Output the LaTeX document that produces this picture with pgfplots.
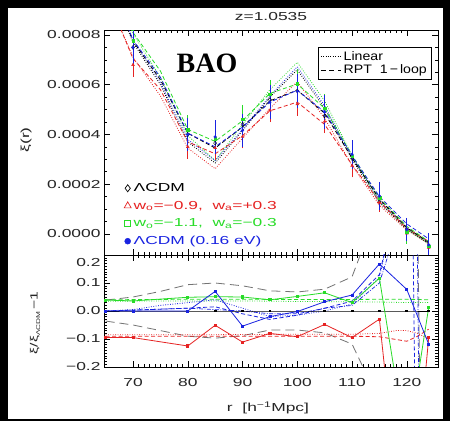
\documentclass[border=0pt]{standalone}
\usepackage{pgfplots}
\pgfplotsset{compat=1.18}
\usepackage{fontspec}
\setmainfont{Liberation Sans}
\newfontfamily\idl{Liberation Sans}[FakeStretch=1.5]
\newfontfamily\leg{Liberation Sans}[FakeStretch=1.15]
\newfontfamily\tnr{Liberation Serif}
\definecolor{cR}{RGB}{230,35,35}
\definecolor{cG}{RGB}{40,220,40}
\definecolor{cB}{RGB}{25,35,225}
\definecolor{cGr}{RGB}{115,115,115}
\pgfplotsset{
  idlaxis/.style={
    scale only axis, width=334pt,
    xmin=64.7, xmax=125.7,
    axis line style={black, line width=0.6pt},
    tick style={black, line width=0.5pt},
    major tick length=6pt, minor tick length=3pt,
    tick pos=both, tick align=inside,
    xtick={70,80,90,100,110,120}, minor x tick num=9,
    every tick label/.append style={font=\fontsize{11.6}{13}\selectfont\idl, text=black!85},
    scaled ticks=false,
  },
  dsh/.style={dash pattern=on 4pt off 2.5pt, line width=0.8pt},
  dtt/.style={dash pattern=on 0.8pt off 1.6pt, line width=0.8pt},
  dd/.style={dash pattern=on 4pt off 1.5pt on 0.8pt off 1.5pt, line width=0.7pt},
  lng/.style={dash pattern=on 9pt off 5pt, line width=0.8pt},
}
\begin{document}
\begin{tikzpicture}
\useasboundingbox (0,0) rectangle (450pt,421pt);
\fill[black] (0,0) rectangle (450pt,421pt);
\fill[white] (8pt,2pt) rectangle (443pt,413pt);

% ---------------- top panel ----------------
\begin{axis}[idlaxis, at={(104pt,166pt)}, anchor=south west, height=225pt,
  ymin=-0.000085, ymax=0.00082,
  ytick={0,0.0002,0.0004,0.0006,0.0008},
  yticklabels={0.0000,0.0002,0.0004,0.0006,0.0008},
  minor y tick num=3, xticklabels={},
  legend style={at={(0.06,0.33)}, anchor=north west, draw=none, fill=none,
    font=\fontsize{11.6}{13}\selectfont\idl, row sep=3pt, inner sep=0pt,
    nodes={inner sep=2.5pt}},
  legend cell align=left,
  legend image code/.code={\draw[#1] plot coordinates {(3pt,0pt)};},
]
\addlegendimage{only marks, mark=diamond, black, mark size=3.5pt, line width=0.7pt}
\addlegendentry{ΛCDM}
\addlegendimage{only marks, mark=triangle, cR, mark size=4pt, line width=0.7pt}
\addlegendentry{\textcolor{cR}{w\textsubscript{o}=−0.9,\ \ w\textsubscript{a}=+0.3}}
\addlegendimage{only marks, mark=square, cG, mark size=3pt, line width=0.7pt}
\addlegendentry{\textcolor{cG}{w\textsubscript{o}=−1.1,\ \ w\textsubscript{a}=−0.3}}
\addlegendimage{only marks, mark=*, cB, mark size=3pt}
\addlegendentry{\textcolor{cB}{ΛCDM (0.16 eV)}}

% Linear (dotted)
\addplot[forget plot, dtt, cR] coordinates {(65,0.00097)(70,0.00071)(75,0.000555)(80,0.000345)(85,0.000262)(90,0.000385)(95,0.000505)(100,0.000612)(105,0.000465)(110,0.000275)(115,0.000115)(120,0.000015)(124,-0.00004)};
\addplot[forget plot, dtt, cG] coordinates {(65,0.0011)(70,0.000805)(75,0.00063)(80,0.000395)(85,0.000295)(90,0.00044)(95,0.00058)(100,0.00069)(105,0.000535)(110,0.000315)(115,0.00013)(120,0.00002)(124,-0.00004)};
\addplot[forget plot, dtt, black] coordinates {(65,0.00104)(70,0.00077)(75,0.0006)(80,0.00037)(85,0.000285)(90,0.000415)(95,0.00055)(100,0.00066)(105,0.000505)(110,0.0003)(115,0.000125)(120,0.000018)(124,-0.00004)};
\addplot[forget plot, dtt, cB] coordinates {(65,0.00105)(70,0.00078)(75,0.00061)(80,0.00038)(85,0.000295)(90,0.00042)(95,0.000555)(100,0.000672)(105,0.000515)(110,0.00031)(115,0.000135)(120,0.000025)(124,-0.000035)};
% RPT (dashed)
\addplot[forget plot, dsh, cR] coordinates {(65,0.00097)(70,0.000705)(75,0.00058)(80,0.00037)(85,0.000322)(90,0.000395)(95,0.000495)(100,0.00053)(105,0.00044)(110,0.000278)(115,0.00013)(120,0.000022)(124,-0.00003)};
\addplot[forget plot, dsh, cG] coordinates {(65,0.0011)(70,0.00081)(75,0.000655)(80,0.00042)(85,0.000372)(90,0.000455)(95,0.000565)(100,0.000603)(105,0.000505)(110,0.000315)(115,0.000145)(120,0.00003)(124,-0.00003)};
\addplot[forget plot, dsh, black] coordinates {(65,0.00105)(70,0.000775)(75,0.00062)(80,0.000405)(85,0.000345)(90,0.00043)(95,0.000535)(100,0.000578)(105,0.000485)(110,0.000305)(115,0.00014)(120,0.000025)(124,-0.000035)};
\addplot[forget plot, dsh, cB] coordinates {(65,0.00105)(70,0.00078)(75,0.00063)(80,0.000405)(85,0.00035)(90,0.00043)(95,0.00053)(100,0.000578)(105,0.00049)(110,0.000315)(115,0.00015)(120,0.00004)(124,-0.00002)};

% points with error bars
\addplot[forget plot, only marks, black, mark=diamond, mark size=2pt,
  error bars/.cd, y dir=both, y explicit, error bar style={line width=0.6pt}, error mark options={mark size=1.8pt, line width=0.6pt}]
  coordinates {(65,0.00105)+-(0,0.00003)(70,0.00075)+-(0,0.00003)(80,0.0004)+-(0,0.00003)(85,0.000365)+-(0,0.00003)(90,0.00044)+-(0,0.00003)(95,0.00054)+-(0,0.00003)(100,0.000575)+-(0,0.00003)(105,0.000475)+-(0,0.00003)(110,0.000303)+-(0,0.00003)(115,0.00013)+-(0,0.00003)(120,0.000016)+-(0,0.00003)(124,-0.00005)+-(0,0.00003)};
\addplot[forget plot, only marks, cR, mark=triangle*, mark size=1.6pt,
  error bars/.cd, y dir=both, y explicit, error bar style={line width=0.7pt}, error mark options={mark size=1.8pt, line width=0.7pt}]
  coordinates {(65,0.00096)+-(0,0.00004)(70,0.00068)+-(0,0.00004)(80,0.00035)+-(0,0.00004)(85,0.000346)+-(0,0.00004)(90,0.000391)+-(0,0.00004)(95,0.000497)+-(0,0.00004)(100,0.000522)+-(0,0.00004)(105,0.000452)+-(0,0.00004)(110,0.000274)+-(0,0.00004)(115,0.000126)+-(0,0.00003)(120,0.000002)+-(0,0.00003)(124,-0.000055)+-(0,0.00003)};
\addplot[forget plot, only marks, cG, mark=square*, mark size=1.3pt,
  error bars/.cd, y dir=both, y explicit, error bar style={line width=0.7pt}, error mark options={mark size=1.8pt, line width=0.7pt}]
  coordinates {(65,0.00109)+-(0,0.00005)(70,0.000777)+-(0,0.00005)(80,0.00042)+-(0,0.00005)(85,0.000384)+-(0,0.00005)(90,0.000462)+-(0,0.00005)(95,0.000562)+-(0,0.00005)(100,0.000605)+-(0,0.00005)(105,0.000506)+-(0,0.00005)(110,0.000312)+-(0,0.00004)(115,0.000145)+-(0,0.00004)(120,0.000008)+-(0,0.00004)(124,-0.000049)+-(0,0.00003)};
\addplot[forget plot, only marks, cB, mark=*, mark size=1.4pt,
  error bars/.cd, y dir=both, y explicit, error bar style={line width=0.8pt}, error mark options={mark size=1.8pt, line width=0.8pt}]
  coordinates {(65,0.00105)+-(0,0.00006)(70,0.00075)+-(0,0.00006)(80,0.0004)+-(0,0.00006)(85,0.00039)+-(0,0.00006)(90,0.000416)+-(0,0.00006)(95,0.00053)+-(0,0.00006)(100,0.000574)+-(0,0.00006)(105,0.00049)+-(0,0.00006)(110,0.00032)+-(0,0.00005)(115,0.000152)+-(0,0.00005)(120,0.000017)+-(0,0.00004)(124,-0.000044)+-(0,0.00004)};
\end{axis}

% ---------------- bottom panel ----------------
\begin{axis}[idlaxis, at={(104pt,54pt)}, anchor=south west, height=112pt,
  ymin=-0.2, ymax=0.2,
  ytick={-0.2,-0.1,0,0.1,0.2},
  yticklabels={−0.2,−0.1,0.0,0.1,\raisebox{-12pt}[0pt][0pt]{0.2}},
  minor y tick num=9,
  xticklabels={70,80,90,100,110,120},
  xticklabel style={yshift=-8pt},
  legend style={at={(0.641,2.857)}, anchor=north west, draw=black, line width=0.6pt, fill=white,
    font=\fontsize{12.3}{13}\selectfont\leg, row sep=-2pt, inner xsep=2pt, inner ysep=1.5pt,
    nodes={inner sep=2.5pt}},
  legend cell align=left,
  legend image code/.code={\draw[#1] (0pt,0pt) -- (20pt,0pt);},
]
\addlegendimage{black, dtt}
\addlegendentry{Linear}
\addlegendimage{black, dash pattern=on 5pt off 3.5pt, line width=0.8pt}
\addlegendentry{RPT\ \ 1\,−\,loop}

% model ratios
\addplot[forget plot, lng, cGr] coordinates {(65,0.039)(70,0.05)(75,0.07)(80,0.094)(85,0.1)(90,0.09)(95,0.072)(100,0.068)(105,0.078)(110,0.122)(111.5,0.2)(113,0.4)};
\addplot[forget plot, lng, cGr] coordinates {(65,-0.036)(70,-0.05)(75,-0.07)(80,-0.09)(85,-0.097)(90,-0.088)(95,-0.068)(100,-0.068)(105,-0.078)(110,-0.118)(112,-0.2)(113,-0.35)};
\addplot[forget plot, lng, cGr] coordinates {(121.9,0.5)(122.5,-0.5)};
\addplot[forget plot, dtt, cG] coordinates {(65,0.035)(80,0.036)(90,0.036)(100,0.034)(110,0.033)(115,0.032)(120,0.03)(124,0.03)};
\addplot[forget plot, dsh, cG] coordinates {(65,0.04)(80,0.042)(90,0.042)(100,0.041)(110,0.041)(115,0.042)(120,0.042)(124,0.04)};
\addplot[forget plot, dtt, cR] coordinates {(65,-0.085)(80,-0.085)(90,-0.084)(100,-0.083)(110,-0.083)(115,-0.08)(118,-0.07)(120,-0.07)(122,-0.08)(124,-0.1)};
\addplot[forget plot, dsh, cR] coordinates {(65,-0.09)(80,-0.09)(90,-0.09)(100,-0.09)(110,-0.09)(115,-0.092)(120,-0.108)(122,-0.09)(124,-0.065)};
\addplot[forget plot, dtt, cB] coordinates {(65,0)(70,0.005)(75,0.02)(80,0.03)(85,0.04)(90,0.01)(95,-0.02)(100,-0.015)(105,0)(110,0.025)(115,0.12)(117,0.3)};
\addplot[forget plot, dsh, cB] coordinates {(65,0)(70,0.003)(80,0.01)(85,0.015)(90,-0.01)(95,-0.03)(100,-0.015)(105,0.01)(110,0.035)(115,0.13)(117,0.3)};
\addplot[forget plot, dsh, cB] coordinates {(121.0,0.5)(121.6,-0.5)};
\addplot[forget plot, dd, cB] coordinates {(65,0)(80,0.01)(90,0)(95,-0.01)(100,-0.01)(105,0.01)(110,0.02)(115,0.1)(116.6,0.2)(117.5,0.3)};
\addplot[forget plot, dd, cB] coordinates {(121.8,0.5)(122.3,-0.5)};

% measured ratios
\addplot[forget plot, black, line width=0.8pt, mark=square*, mark size=0.9pt] coordinates {(65,0)(70,0)(80,0)(85,0)(90,0)(95,0)(100,0)(105,0)(110,0)(115,0)(120,0)(124,0)};
\addplot[forget plot, cR, line width=0.8pt, mark=square*, mark size=1.1pt] coordinates {(65,-0.095)(70,-0.095)(80,-0.125)(85,-0.051)(90,-0.111)(95,-0.08)(100,-0.092)(105,-0.048)(110,-0.095)(115,-0.029)(120,-0.95)(124,-0.095)};
\addplot[forget plot, cG, line width=0.8pt, mark=square*, mark size=1.1pt] coordinates {(65,0.039)(70,0.036)(80,0.049)(85,0.051)(90,0.05)(95,0.04)(100,0.052)(105,0.065)(110,0.03)(115,0.117)(120,-0.49)(124,0.013)};
\addplot[forget plot, cB, line width=0.8pt, mark=square*, mark size=1.0pt] coordinates {(65,0)(70,0)(80,0)(85,0.07)(90,-0.054)(95,-0.02)(100,-0.002)(105,0.033)(110,0.057)(115,0.168)(120,0.077)(124,-0.118)};
\end{axis}

\node[font=\fontsize{11.6}{13}\selectfont\idl, text=black!85] at (271pt,404pt) {z=1.0535};
\node[font=\fontsize{11.6}{13}\selectfont\idl, text=black!85] at (268pt,13pt) {r\ \ [h\textsuperscript{−1}Mpc]};
\node[font=\fontsize{28}{30}\selectfont\tnr\bfseries] at (207pt,358pt) {BAO};
\node[rotate=90, font=\fontsize{11.6}{13}\selectfont\idl, text=black!85] at (26pt,281pt) {ξ(r)};
\node[rotate=90, font=\fontsize{10.5}{12}\selectfont\idl, text=black!85] at (35pt,98pt) {ξ/ξ\raisebox{-2.5pt}{\fontsize{5.5}{6}\selectfont ΛCDM}\,−1};
\end{tikzpicture}
\end{document}
